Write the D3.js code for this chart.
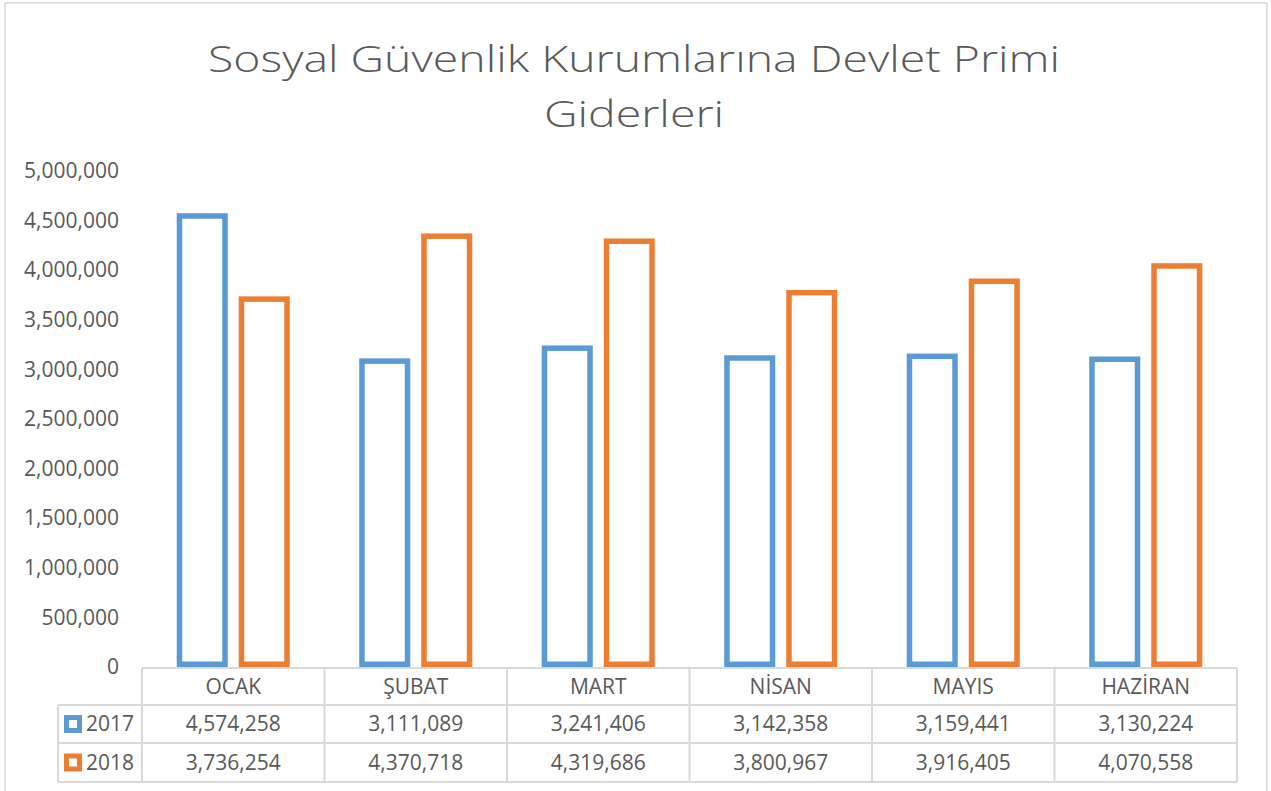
<!DOCTYPE html>
<html>
<head>
<meta charset="utf-8" />
<title>Sosyal Güvenlik Kurumlarına Devlet Primi Giderleri</title>
<style type="text/css">
body{
	margin:0;
	background:#fff;
	font-family:"Open Sans", "Noto Sans", sans-serif;
}
</style>
<script src="https://cdnjs.cloudflare.com/ajax/libs/d3/7.8.5/d3.min.js"></script>
</head>
<body>
<div id="chart"></div>
<script>
	// veriler
	var months = ["OCAK", "ŞUBAT", "MART", "NİSAN", "MAYIS", "HAZİRAN"];
	var series = ["2017", "2018"];
	var values2017 = [4574258, 3111089, 3241406, 3142358, 3159441, 3130224];
	var values2018 = [3736254, 4370718, 4319686, 3800967, 3916405, 4070558];
	var yTicks = [0, 500000, 1000000, 1500000, 2000000, 2500000, 3000000, 3500000, 4000000, 4500000, 5000000];
	var titleLines = ["Sosyal Güvenlik Kurumlarına Devlet Primi", "Giderleri"];

	var colors = {"2017": "#5B9BD5", "2018": "#ED7D31"};
	var textColor = "#595959";
	var lineColor = "#D9D9D9";
	var width = 1271, height = 791;
	var plotLeft = 142, plotRight = 1237, plotTop = 171, plotBottom = 667;
	var rowH = [37, 38, 39];
	var sw = 5.5;
	var fmt = d3.format(",");

	var SVG = d3.select("#chart")
				.append("svg")
				.attr("width", width)
				.attr("height", height);

	// dış çerçeve
	SVG.append("path")
		.attr("d", "M5,800 L5,3 L1267,3 L1267,800")
		.attr("fill", "none")
		.attr("stroke", lineColor)
		.attr("stroke-width", 1.5);

	// başlık
	SVG.selectAll("text.title")
		.data(titleLines)
		.enter()
		.append("text")
		.attr("class", "title")
		.attr("x", 634)
		.attr("y", function(d, i){ return 72 + i * 55; })
		.attr("text-anchor", "middle")
		.attr("font-size", 37)
		.attr("font-weight", 300)
		.attr("fill", textColor)
		.attr("textLength", function(d, i){ return i == 0 ? 852 : 180; })
		.attr("lengthAdjust", "spacingAndGlyphs")
		.text(function(d){ return d; });

	// ölçekler
	var x0 = d3.scaleBand().domain(months).range([plotLeft, plotRight]);
	var x1 = d3.scaleBand().domain(series).range([0, x0.bandwidth()])
				.paddingInner(0.177).paddingOuter(0.56);
	var y = d3.scaleLinear().domain([0, 5000000]).range([plotBottom, plotTop]);

	// y ekseni
	var yAxis = SVG.append("g")
		.attr("transform", "translate(119,0)")
		.call(d3.axisLeft(y).tickValues(yTicks).tickSize(0).tickPadding(0).tickFormat(fmt));
	yAxis.select(".domain").remove();
	yAxis.selectAll("text")
		.attr("font-family", "'Open Sans', sans-serif")
		.attr("font-size", 21)
		.attr("fill", textColor);

	// çubuklar
	var rows = series.map(function(s){
		return {name: s, values: s == "2017" ? values2017 : values2018};
	});
	rows.forEach(function(r){
		SVG.selectAll("rect.bar" + r.name)
			.data(r.values)
			.enter()
			.append("rect")
			.attr("x", function(d, i){ return x0(months[i]) + x1(r.name) + sw / 2; })
			.attr("y", function(d){ return y(d) + sw / 2; })
			.attr("width", x1.bandwidth() - sw)
			.attr("height", function(d){ return y(0) - y(d) - sw; })
			.attr("fill", "#fff")
			.attr("stroke", colors[r.name])
			.attr("stroke-width", sw);
	});

	// veri tablosu
	var rowTop = [plotBottom + 1];
	rowH.forEach(function(h, i){ rowTop.push(rowTop[i] + h); });
	var tableBottom = rowTop[3];
	var g = SVG.append("g").attr("stroke", lineColor).attr("stroke-width", 2);
	// yatay çizgiler
	g.append("line").attr("x1", plotLeft).attr("x2", plotRight).attr("y1", rowTop[0]).attr("y2", rowTop[0]);
	for (var i = 1; i < 4; i++){
		g.append("line").attr("x1", 58).attr("x2", plotRight).attr("y1", rowTop[i]).attr("y2", rowTop[i]);
	}
	// dikey çizgiler
	g.append("line").attr("x1", 58).attr("x2", 58).attr("y1", rowTop[1]).attr("y2", tableBottom);
	g.selectAll("line.col")
		.data(months.concat(["end"]))
		.enter()
		.append("line")
		.attr("x1", function(d){ return d == "end" ? plotRight : x0(d); })
		.attr("x2", function(d){ return d == "end" ? plotRight : x0(d); })
		.attr("y1", rowTop[0])
		.attr("y2", tableBottom);

	// ay adları
	SVG.selectAll("text.month")
		.data(months)
		.enter()
		.append("text")
		.attr("x", function(d){ return x0(d) + x0.bandwidth() / 2; })
		.attr("y", rowTop[0] + rowH[0] / 2 + 7)
		.attr("text-anchor", "middle")
		.attr("font-size", 21)
		.attr("fill", textColor)
		.text(function(d){ return d; });

	// seri satırları
	rows.forEach(function(r, k){
		var cy = rowTop[k + 1] + rowH[k + 1] / 2;
		SVG.append("rect")
			.attr("x", 66.5)
			.attr("y", cy - 6.5)
			.attr("width", 13)
			.attr("height", 13)
			.attr("fill", "#fff")
			.attr("stroke", colors[r.name])
			.attr("stroke-width", 5);
		SVG.append("text")
			.attr("x", 86)
			.attr("y", cy + 7)
			.attr("font-size", 21)
			.attr("fill", textColor)
			.text(r.name);
		SVG.selectAll("text.v" + r.name)
			.data(r.values)
			.enter()
			.append("text")
			.attr("x", function(d, i){ return x0(months[i]) + x0.bandwidth() / 2; })
			.attr("y", cy + 7)
			.attr("text-anchor", "middle")
			.attr("font-size", 21)
			.attr("fill", textColor)
			.text(function(d){ return fmt(d); });
	});
</script>
</body>
</html>
